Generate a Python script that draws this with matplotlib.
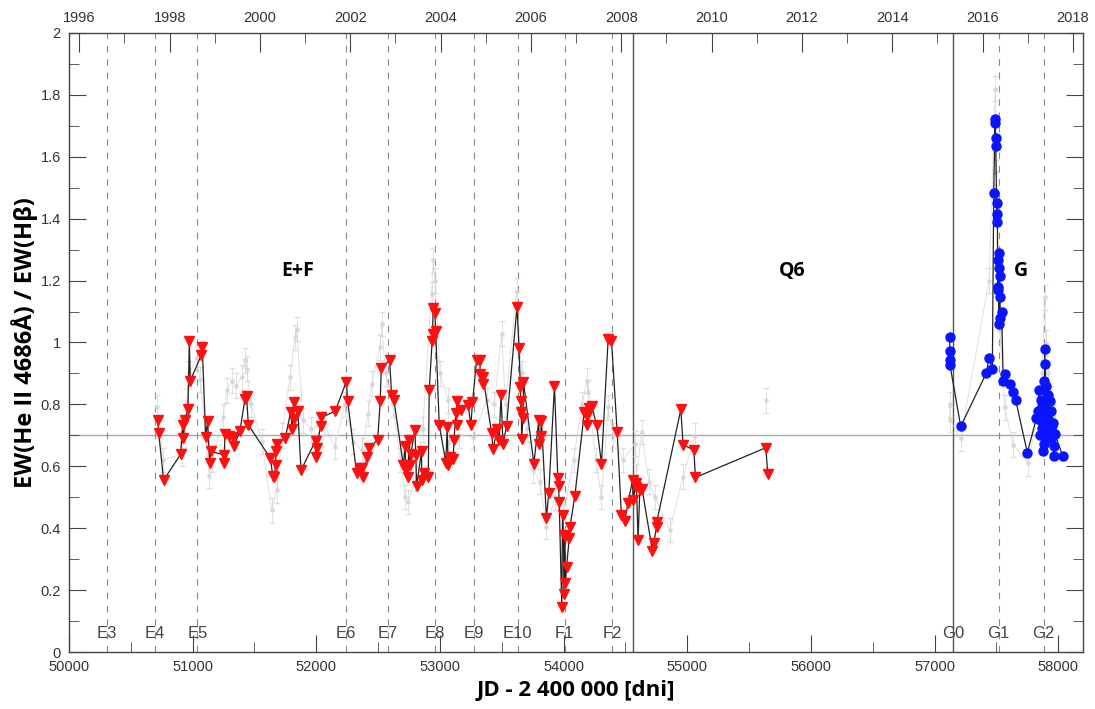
import matplotlib
matplotlib.use("Agg")
import matplotlib.pyplot as plt
from matplotlib.ticker import MultipleLocator

# red triangles (E+F season and Q6)
red_jd = [50717, 50725, 50765, 50903, 50919, 50924, 50940, 50962, 50973, 50981,
          51070, 51078, 51105, 51121, 51137, 51145, 51253, 51255, 51261, 51296,
          51323, 51334, 51382, 51423, 51436, 51450, 51627, 51649, 51660, 51671,
          51673, 51684, 51749, 51792, 51806, 51816, 51821, 51851, 51876, 51994,
          51999, 52002, 52035, 52040, 52153, 52242, 52254, 52326, 52352, 52367,
          52374, 52412, 52428, 52496, 52517, 52525, 52593, 52609, 52628, 52704,
          52717, 52725, 52739, 52752, 52757, 52765, 52797, 52805, 52811, 52851,
          52853, 52872, 52905, 52913, 52937, 52940, 52945, 52959, 52965, 52994,
          53048, 53058, 53066, 53080, 53107, 53113, 53129, 53134, 53136, 53167,
          53228, 53250, 53263, 53296, 53323, 53325, 53344, 53349, 53417, 53430,
          53462, 53478, 53494, 53510, 53538, 53623, 53639, 53650, 53653, 53658,
          53660, 53672, 53675, 53759, 53799, 53801, 53813, 53821, 53861, 53880,
          53926, 53953, 53959, 53964, 53985, 53991, 53999, 54002, 54010, 54015,
          54024, 54045, 54051, 54091, 54167, 54186, 54188, 54207, 54228, 54266,
          54306, 54360, 54387, 54433, 54467, 54494, 54521, 54557, 54562, 54584,
          54589, 54602, 54616, 54634, 54718, 54729, 54751, 54753, 54948, 54966,
          55053, 55066, 55635, 55651]
red_ew = [0.751, 0.709, 0.555, 0.639, 0.735, 0.690, 0.751, 0.785, 1.004, 0.877,
          0.959, 0.985, 0.695, 0.745, 0.612, 0.648, 0.637, 0.612, 0.704, 0.699,
          0.695, 0.666, 0.713, 0.818, 0.828, 0.734, 0.627, 0.568, 0.564, 0.603,
          0.651, 0.672, 0.691, 0.774, 0.719, 0.807, 0.752, 0.778, 0.587, 0.683,
          0.630, 0.659, 0.731, 0.758, 0.778, 0.873, 0.810, 0.577, 0.595, 0.594,
          0.566, 0.630, 0.659, 0.686, 0.811, 0.918, 0.942, 0.829, 0.813, 0.603,
          0.666, 0.587, 0.566, 0.684, 0.603, 0.641, 0.718, 0.635, 0.535, 0.649,
          0.555, 0.577, 0.564, 0.845, 1.006, 1.028, 1.112, 1.095, 1.037, 0.734,
          0.611, 0.727, 0.603, 0.630, 0.625, 0.686, 0.772, 0.735, 0.811, 0.783,
          0.798, 0.732, 0.807, 0.942, 0.942, 0.899, 0.865, 0.888, 0.709, 0.655,
          0.721, 0.684, 0.829, 0.671, 0.730, 1.116, 0.981, 0.856, 0.775, 0.811,
          0.688, 0.757, 0.872, 0.609, 0.748, 0.673, 0.699, 0.746, 0.433, 0.515,
          0.861, 0.561, 0.537, 0.485, 0.144, 0.444, 0.377, 0.189, 0.372, 0.222,
          0.275, 0.367, 0.404, 0.505, 0.775, 0.764, 0.732, 0.789, 0.794, 0.735,
          0.609, 1.012, 1.006, 0.711, 0.442, 0.423, 0.482, 0.555, 0.490, 0.546,
          0.533, 0.361, 0.523, 0.527, 0.327, 0.353, 0.404, 0.420, 0.784, 0.670,
          0.652, 0.564, 0.660, 0.574]

# blue circles (G season)
blue_jd = [57122, 57123, 57124, 57125, 57211, 57418, 57440, 57467, 57478, 57489,
           57491, 57493, 57495, 57502, 57505, 57508, 57510, 57514, 57516, 57518,
           57520, 57524, 57526, 57529, 57531, 57542, 57555, 57570, 57607, 57634,
           57655, 57750, 57823, 57836, 57845, 57850, 57855, 57863, 57866, 57870,
           57877, 57879, 57882, 57884, 57888, 57890, 57893, 57896, 57900, 57904,
           57908, 57912, 57917, 57922, 57927, 57931, 57936, 57940, 57944, 57948,
           57952, 57958, 57963, 57966, 57971, 58038]
blue_ew = [1.019, 0.974, 0.944, 0.926, 0.729, 0.901, 0.950, 0.915, 1.482, 1.721,
           1.710, 1.662, 1.635, 1.415, 1.452, 1.388, 1.180, 1.266, 1.170, 1.289,
           1.060, 1.241, 1.214, 1.146, 1.080, 1.098, 0.875, 0.897, 0.865, 0.840,
           0.815, 0.644, 0.755, 0.780, 0.845, 0.750, 0.700, 0.815, 0.725, 0.790,
           0.705, 0.650, 0.877, 0.671, 0.740, 0.980, 0.760, 0.930, 0.690, 0.861,
           0.760, 0.720, 0.830, 0.700, 0.745, 0.810, 0.690, 0.720, 0.780, 0.695,
           0.735, 0.740, 0.665, 0.632, 0.705, 0.632]

# faint grey comparison series
grey_jd = [50714, 50762, 50911, 50935, 50951, 50973, 51032, 51060, 51134, 51160,
           51248, 51275, 51315, 51350, 51396, 51423, 51436, 51470, 51560, 51638,
           51679, 51720, 51787, 51827, 51840, 51894, 51960, 52060, 52150, 52230,
           52300, 52366, 52420, 52447, 52514, 52528, 52560, 52620, 52680, 52716,
           52743, 52800, 52860, 52932, 52945, 52960, 53000, 53066, 53075, 53150,
           53269, 53377, 53440, 53498, 53530, 53619, 53660, 53700, 53753, 53810,
           53861, 53930, 53996, 54080, 54150, 54186, 54200, 54260, 54306, 54360,
           54400, 54480, 54576, 54589, 54630, 54690, 54737, 54859, 54966, 55061]
grey_ew = [0.79, 0.62, 0.64, 0.70, 0.81, 0.90, 0.95, 0.88, 0.57, 0.62,
           0.76, 0.845, 0.877, 0.86, 0.888, 0.942, 0.915, 0.80, 0.68, 0.458,
           0.523, 0.70, 0.888, 1.017, 1.044, 0.748, 0.72, 0.74, 0.662, 0.80,
           0.68, 0.652, 0.770, 0.867, 0.985, 1.060, 0.90, 0.80, 0.62, 0.501,
           0.485, 0.56, 0.72, 1.157, 1.265, 1.20, 0.90, 0.813, 0.68, 0.70,
           0.695, 0.813, 0.80, 1.028, 0.80, 1.168, 0.90, 0.72, 0.587, 0.55,
           0.404, 0.50, 0.437, 0.62, 0.80, 0.877, 0.84, 0.62, 0.501, 0.791,
           0.70, 0.62, 0.673, 0.566, 0.711, 0.55, 0.501, 0.394, 0.566, 0.699]
grey_q6_jd = [55640]
grey_q6_ew = [0.813]
grey_g_jd = [57122, 57124, 57211, 57440, 57491, 57500, 57526, 57566, 57634, 57756,
             57850, 57870, 57890, 57900, 57920, 57940, 57960]
grey_g_ew = [0.80, 0.75, 0.69, 1.20, 1.82, 1.55, 1.04, 0.79, 0.67, 0.61,
             0.80, 0.90, 1.146, 1.00, 0.90, 0.82, 0.76]

# event markers
dashed_names = ["E3", "E4", "E5", "E6", "E7", "E8", "E9", "E10", "F1", "F2", "G1", "G2"]
dashed_jd = [50307, 50693, 51039, 52236, 52576, 52959, 53274, 53630, 54008, 54395, 57517, 57882]
solid_names = ["", "G0"]
solid_jd = [54557, 57150]

season_names = ["E+F", "Q6", "G"]
season_jd = [51850, 55850, 57700]
season_ew = [1.23, 1.23, 1.23]

years = list(range(1996, 2019))

bold = {"family": ["Open Sans", "DejaVu Sans"], "weight": "bold"}
tick_font = "Liberation Sans"

fig = plt.figure(figsize=(10.95, 7.09), dpi=100)
ax = fig.add_axes([69 / 1095, 1 - 652 / 709, (1083 - 69) / 1095, (652 - 33) / 709])

ax.axhline(0.7, color="#a8a8a8", lw=1.0, zorder=1)
for jd in dashed_jd:
    ax.axvline(jd, color="#8a8a8a", lw=0.8, ls=(0, (6, 6)), zorder=1)
for jd in solid_jd:
    ax.axvline(jd, color="#555555", lw=1.0, zorder=1)
for name, jd in zip(dashed_names + solid_names, dashed_jd + solid_jd):
    if name:
        ax.text(jd, 0.06, name, ha="center", va="center", fontsize=12,
                family=tick_font, color="#444444")

grey_kw = dict(color="#d4d4d4", marker="o", ms=2.5, lw=0.7, yerr=0.04,
               elinewidth=0.7, capsize=2, alpha=0.7, zorder=2)
ax.errorbar(grey_jd, grey_ew, **grey_kw)
ax.errorbar(grey_q6_jd, grey_q6_ew, **grey_kw)
ax.errorbar(grey_g_jd, grey_g_ew, **grey_kw)

ax.plot(red_jd, red_ew, color="#222222", lw=0.9, zorder=3)
ax.plot(red_jd, red_ew, ls="none", marker="v", ms=7, color="#ff1010",
        markeredgecolor="#ff1010", zorder=4)
ax.plot(blue_jd, blue_ew, color="#222222", lw=0.9, zorder=3)
ax.plot(blue_jd, blue_ew, ls="none", marker="o", ms=6.5, color="#0a14ff",
        markeredgecolor="#0a14ff", zorder=4)

for name, jd, ew in zip(season_names, season_jd, season_ew):
    ax.text(jd, ew, name, ha="center", va="center", fontsize=14, **bold)

ax.set_xlim(50000, 58200)
ax.set_ylim(0, 2)
ax.xaxis.set_major_locator(MultipleLocator(1000))
ax.xaxis.set_minor_locator(MultipleLocator(500))
ax.yaxis.set_major_locator(MultipleLocator(0.2))
ax.yaxis.set_minor_locator(MultipleLocator(0.1))
ax.yaxis.set_major_formatter(lambda v, p: f"{v:g}")
ax.tick_params(which="both", direction="in", top=False, right=True,
               color="#444444", labelcolor="#333333", labelsize=10.5, pad=6)
ax.tick_params(which="major", length=12)
ax.tick_params(which="minor", length=7)
for lab in ax.get_xticklabels() + ax.get_yticklabels():
    lab.set_family(tick_font)
for sp in ax.spines.values():
    sp.set_color("#444444")
    sp.set_linewidth(1.0)

ax.set_xlabel("JD - 2 400 000 [dni]", fontsize=16, labelpad=4, **bold)
ax.set_ylabel("EW(He II 4686Å) / EW(Hβ)", fontsize=17, labelpad=2, **bold)

# calendar years on top
top = ax.twiny()
top.set_xlim(ax.get_xlim())
year_jd = [51544.5 + (y - 2000) * 365.25 for y in years]
top.set_xticks(year_jd[::2])
top.set_xticklabels([str(y) for y in years[::2]])
top.set_xticks(year_jd[1::2], minor=True)
top.tick_params(which="both", direction="in", color="#444444",
                labelcolor="#333333", labelsize=10.5, pad=6)
top.tick_params(which="major", length=14)
top.tick_params(which="minor", length=7)
for lab in top.get_xticklabels():
    lab.set_family(tick_font)
for sp in top.spines.values():
    sp.set_visible(False)

fig.savefig("out.png", dpi=100)
